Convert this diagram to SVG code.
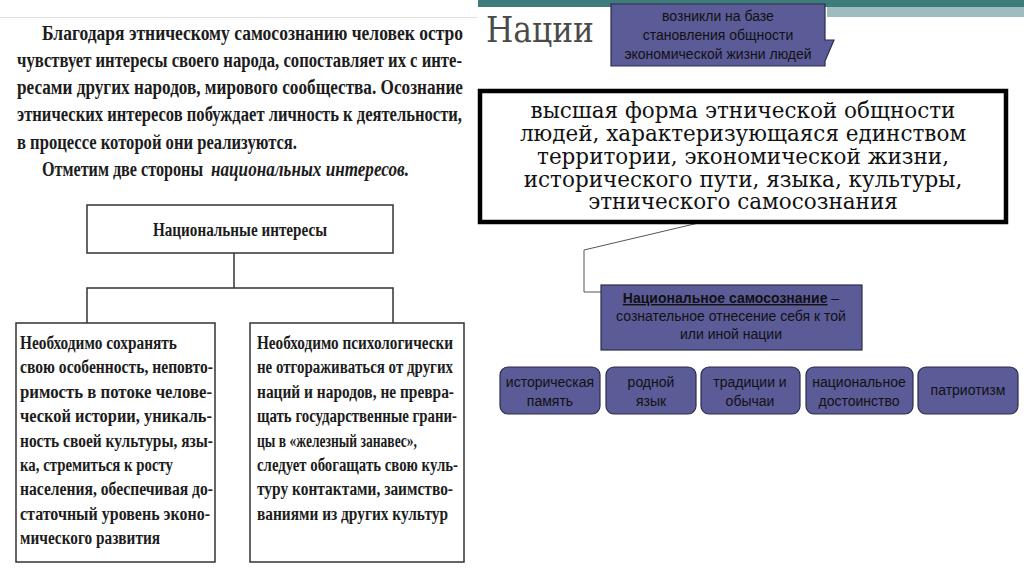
<svg xmlns="http://www.w3.org/2000/svg" width="1024" height="574" viewBox="0 0 1024 574">
<style>
.para{font-family:"Liberation Serif",serif;font-weight:bold;font-size:20px;fill:#1c1c1c}
.btxt{font-family:"Liberation Serif",serif;font-weight:bold;font-size:18.5px;fill:#1c1c1c}
.lbox{fill:#fff;stroke:#333;stroke-width:1.5}
.ln{fill:none;stroke:#333;stroke-width:1.5}
.pbox{fill:#5b5b98;stroke:#2c2c4c;stroke-width:1.2}
.sans{font-family:"Liberation Sans",Arial,sans-serif;font-size:14px;fill:#111;text-anchor:middle}
.big{font-family:"DejaVu Serif",serif;font-size:21.5px;fill:#111;text-anchor:middle}
</style>
<rect width="1024" height="574" fill="#fff"/>
<line x1="0" y1="17.5" x2="478" y2="17.5" stroke="#e2e2e2" stroke-width="1"/>
<rect x="478" y="0" width="546" height="7" fill="#3e7b7b"/>
<rect x="827" y="7" width="197" height="10" fill="#9fbcc0"/>

<g id="paragraph">
<text class="para" x="42" y="40" textLength="421" lengthAdjust="spacingAndGlyphs">Благодаря этническому самосознанию человек остро</text>
<text class="para" x="17" y="67" textLength="445" lengthAdjust="spacingAndGlyphs">чувствует интересы своего народа, сопоставляет их с инте-</text>
<text class="para" x="17" y="94" textLength="446" lengthAdjust="spacingAndGlyphs">ресами других народов, мирового сообщества. Осознание</text>
<text class="para" x="17" y="121" textLength="445" lengthAdjust="spacingAndGlyphs">этнических интересов побуждает личность к деятельности,</text>
<text class="para" x="17" y="149" textLength="280" lengthAdjust="spacingAndGlyphs">в процессе которой они реализуются.</text>
<text class="para" y="176"><tspan x="42" textLength="161" lengthAdjust="spacingAndGlyphs">Отметим две стороны</tspan><tspan x="211" font-style="italic" textLength="198" lengthAdjust="spacingAndGlyphs">национальных интересов.</tspan></text>
</g>

<g id="connectors">
<line class="ln" x1="234" y1="253" x2="234" y2="288"/>
<polyline class="ln" points="87,323 87,288 393,288 393,323"/>
<polyline points="762,208 584,250 584,292 601,292" fill="none" stroke="#555" stroke-width="1"/>
</g>

<g id="node-interests">
<rect class="lbox" x="87" y="205" width="306" height="48"/>
<text class="btxt" x="240" y="236" text-anchor="middle" font-size="17" textLength="174" lengthAdjust="spacingAndGlyphs">Национальные интересы</text>
</g>

<g id="node-left">
<rect class="lbox" x="16" y="323" width="199" height="239"/>
<text class="btxt" x="20" y="349" textLength="157" lengthAdjust="spacingAndGlyphs">Необходимо сохранять</text>
<text class="btxt" x="20" y="373" textLength="193" lengthAdjust="spacingAndGlyphs">свою особенность, неповто-</text>
<text class="btxt" x="20" y="398" textLength="192" lengthAdjust="spacingAndGlyphs">римость в потоке челове-</text>
<text class="btxt" x="20" y="422" textLength="192" lengthAdjust="spacingAndGlyphs">ческой истории, уникаль-</text>
<text class="btxt" x="20" y="447" textLength="193" lengthAdjust="spacingAndGlyphs">ность своей культуры, язы-</text>
<text class="btxt" x="20" y="471" textLength="153" lengthAdjust="spacingAndGlyphs">ка, стремиться к росту</text>
<text class="btxt" x="20" y="495" textLength="193" lengthAdjust="spacingAndGlyphs">населения, обеспечивая до-</text>
<text class="btxt" x="20" y="520" textLength="190" lengthAdjust="spacingAndGlyphs">статочный уровень эконо-</text>
<text class="btxt" x="20" y="544" textLength="140" lengthAdjust="spacingAndGlyphs">мического развития</text>
</g>

<g id="node-right">
<rect class="lbox" x="250" y="323" width="214" height="239"/>
<text class="btxt" x="257" y="349" textLength="196" lengthAdjust="spacingAndGlyphs">Необходимо психологически</text>
<text class="btxt" x="257" y="373" textLength="196" lengthAdjust="spacingAndGlyphs">не отгораживаться от других</text>
<text class="btxt" x="257" y="398" textLength="197" lengthAdjust="spacingAndGlyphs">наций и народов, не превра-</text>
<text class="btxt" x="257" y="422" textLength="200" lengthAdjust="spacingAndGlyphs">щать государственные грани-</text>
<text class="btxt" x="257" y="447" textLength="160" lengthAdjust="spacingAndGlyphs">цы в «железный занавес»,</text>
<text class="btxt" x="257" y="471" textLength="201" lengthAdjust="spacingAndGlyphs">следует обогащать свою куль-</text>
<text class="btxt" x="257" y="495" textLength="196" lengthAdjust="spacingAndGlyphs">туру контактами, заимство-</text>
<text class="btxt" x="257" y="520" textLength="191" lengthAdjust="spacingAndGlyphs">ваниями из других культур</text>
</g>

<g id="title">
<text x="486" y="42" font-family="DejaVu Serif, serif" font-size="35" fill="#4a4a4a" textLength="108" lengthAdjust="spacingAndGlyphs">Нации</text>
</g>

<g id="node-callout">
<polygon class="pbox" points="611,4 825,4 825,40 834,40 825,61 825,66 611,66"/>
<text class="sans" x="718" y="21">возникли на базе</text>
<text class="sans" x="718" y="40">становления общности</text>
<text class="sans" x="718" y="59">экономической жизни людей</text>
</g>

<g id="node-definition">
<rect x="480" y="91" width="526" height="131" fill="#fff" stroke="#000" stroke-width="4.5"/>
<text class="big" x="743" y="118">высшая форма этнической общности</text>
<text class="big" x="743" y="141">людей, характеризующаяся единством</text>
<text class="big" x="743" y="164">территории, экономической жизни,</text>
<text class="big" x="743" y="187">исторического пути, языка, культуры,</text>
<text class="big" x="743" y="209">этнического самосознания</text>
</g>

<g id="node-selfawareness">
<rect class="pbox" x="601" y="285" width="261" height="65"/>
<text class="sans" x="731" y="303"><tspan font-weight="bold" text-decoration="underline">Национальное самосознание</tspan> –</text>
<text class="sans" x="731" y="321">сознательное отнесение себя к той</text>
<text class="sans" x="731" y="339">или иной нации</text>
</g>

<g id="node-memory">
<rect class="pbox" x="500" y="367" width="100" height="47" rx="8"/>
<text class="sans" x="550" y="387">историческая</text>
<text class="sans" x="550" y="406">память</text>
</g>
<g id="node-language">
<rect class="pbox" x="606" y="367" width="90" height="47" rx="8"/>
<text class="sans" x="651" y="387">родной</text>
<text class="sans" x="651" y="406">язык</text>
</g>
<g id="node-traditions">
<rect class="pbox" x="701" y="367" width="99" height="47" rx="8"/>
<text class="sans" x="750" y="387">традиции и</text>
<text class="sans" x="750" y="406">обычаи</text>
</g>
<g id="node-dignity">
<rect class="pbox" x="806" y="367" width="107" height="47" rx="8"/>
<text class="sans" x="859" y="387">национальное</text>
<text class="sans" x="859" y="406">достоинство</text>
</g>
<g id="node-patriotism">
<rect class="pbox" x="918" y="367" width="100" height="47" rx="8"/>
<text class="sans" x="968" y="395">патриотизм</text>
</g>
</svg>
